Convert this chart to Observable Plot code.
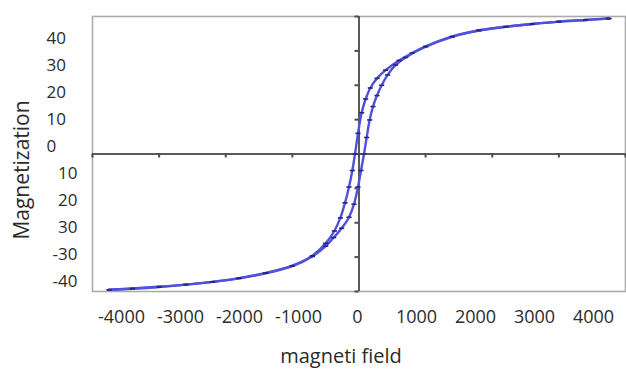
<!DOCTYPE html>
<html><head><meta charset="utf-8">
<script src="https://cdn.jsdelivr.net/npm/d3@7"></script>
<script src="https://cdn.jsdelivr.net/npm/@observablehq/plot@0.6"></script>
<style>
body{margin:0;background:#fff}
#wrap{position:relative;width:626px;height:370px;font-family:"Open Sans",sans-serif;}
#wrap svg{position:absolute;left:0;top:0;overflow:visible}
</style></head><body><div id="wrap"></div>
<script>
// Descending branch (from +H saturation to -H)
const descField = [3750, 3400, 3000, 2600, 2200, 1800, 1400, 1000, 800, 600, 400, 270, 170, 100, 40, -15, -60, -100, -150, -210, -280, -370, -500, -700, -1000, -1400, -1800, -2200, -2600, -3000, -3400, -3750];
const descMag = [39.4, 39.0, 38.5, 37.8, 37.0, 36.0, 34.2, 31.3, 29.4, 27.2, 24.4, 22.0, 19.2, 16.0, 12.0, 6.0, 0, -4.8, -9.6, -14.2, -18.6, -22.4, -26.0, -29.6, -32.5, -34.6, -36.1, -37.2, -38.0, -38.6, -39.1, -39.5];
// Ascending branch (from -H saturation to +H)
const ascField = [-3750, -3400, -3000, -2600, -2200, -1800, -1400, -1000, -700, -500, -380, -260, -150, -75, -15, 30, 75, 115, 160, 210, 270, 340, 430, 550, 700, 1000, 1400, 1800, 2200, 2600, 3000, 3400, 3750];
const ascMag = [-39.5, -39.2, -38.7, -38.0, -37.2, -36.2, -34.7, -32.6, -29.8, -26.8, -24.3, -21.6, -18.4, -14.6, -9.6, -4.8, 0, 4.8, 9.9, 13.8, 17.0, 20.0, 23.0, 25.9, 28.1, 31.2, 34.1, 35.9, 37.0, 37.8, 38.5, 39.0, 39.4];

const xTicks = [-4000, -3000, -2000, -1000, 0, 1000, 2000, 3000, 4000];
const yTicks = [-40, -30, -20, -10, 0, 10, 20, 30, 40];
const xTickLabels = ["-4000", "-3000", "-2000", "-1000", "0", "1000", "2000", "3000", "4000"];
const yTickLabels = ["40", "30", "20", "10", "0", "10", "20", "30", "-30", "-40"];
const xTitle = "magneti field";
const yTitle = "Magnetization";

const loop = [
  ...descField.map((h, i) => ({branch: "descending", field: h, mag: descMag[i]})),
  ...ascField.map((h, i) => ({branch: "ascending", field: h, mag: ascMag[i]}))
];

const dash = {draw(ctx, size) { const r = Math.sqrt(size / Math.PI); ctx.rect(-r * 1.6, -r * 0.5, r * 3.2, r * 1.0); }};

const W = 626, H = 370;
const wrap = document.getElementById("wrap");
const textColor = "#2b2b2b";

const main = Plot.plot({
  width: W, height: H,
  marginLeft: 92, marginRight: 1, marginTop: 16, marginBottom: 79,
  style: {fontFamily: "Open Sans", background: "white"},
  x: {domain: [-4000, 4000], axis: null},
  y: {domain: [-40, 40], axis: null},
  marks: [
    Plot.frame({stroke: "#ababab", strokeWidth: 1.6}),
    Plot.ruleY([0], {stroke: "#5a5a5a", strokeWidth: 2}),
    Plot.ruleX([0], {stroke: "#5a5a5a", strokeWidth: 2}),
    Plot.ruleX(xTicks, {x: d => d, y1: 0, y2: 0, insetBottom: -4, stroke: "#4a4a4a", strokeWidth: 2}),
    Plot.ruleY(yTicks, {y: d => d, x1: 0, x2: 0, insetLeft: -4, stroke: "#4a4a4a", strokeWidth: 2}),
    Plot.line(loop, {x: "field", y: "mag", z: "branch", stroke: "#5050dc", strokeWidth: 2.4, curve: "catmull-rom"}),
    Plot.dot(loop, {x: "field", y: "mag", symbol: dash, r: 1.6, fill: "#25257a", stroke: "none"}),
    Plot.text([yTitle], {frameAnchor: "left", textAnchor: "middle", lineAnchor: "middle", dx: -70, dy: 16, rotate: -90, fontSize: 21, fill: textColor}),
    Plot.text([xTitle], {frameAnchor: "bottom", textAnchor: "middle", lineAnchor: "middle", dx: -18, dy: 65, fontSize: 20, fill: textColor})
  ]
});
wrap.appendChild(main);

const yIdx = d3.range(yTickLabels.length);
const yLab = Plot.plot({
  width: W, height: H,
  marginLeft: 46, marginRight: W - 77, marginTop: 35, marginBottom: H - 284,
  style: {fontFamily: "Open Sans", background: "transparent"},
  x: {axis: null},
  y: {type: "point", domain: yIdx, padding: 0, axis: null},
  marks: [
    Plot.text(yIdx.slice(0, 5), {y: d => d, text: d => yTickLabels[d], frameAnchor: "left", textAnchor: "start", lineAnchor: "middle", fontSize: 17, fill: textColor}),
    Plot.text(yIdx.slice(5), {y: d => d, text: d => yTickLabels[d], frameAnchor: "right", textAnchor: "end", lineAnchor: "middle", fontSize: 17, fill: textColor})
  ]
});
wrap.appendChild(yLab);

const xIdx = d3.range(xTickLabels.length);
const xLab = Plot.plot({
  width: W, height: H,
  marginLeft: 119, marginRight: W - 595, marginTop: 300, marginBottom: 36,
  style: {fontFamily: "Open Sans", background: "transparent"},
  y: {axis: null},
  x: {type: "point", domain: xIdx, padding: 0, axis: null},
  marks: [
    Plot.text(xIdx, {x: d => d, text: d => xTickLabels[d], frameAnchor: "middle", lineAnchor: "middle", fontSize: 18, fill: textColor})
  ]
});
wrap.appendChild(xLab);
</script></body></html>
